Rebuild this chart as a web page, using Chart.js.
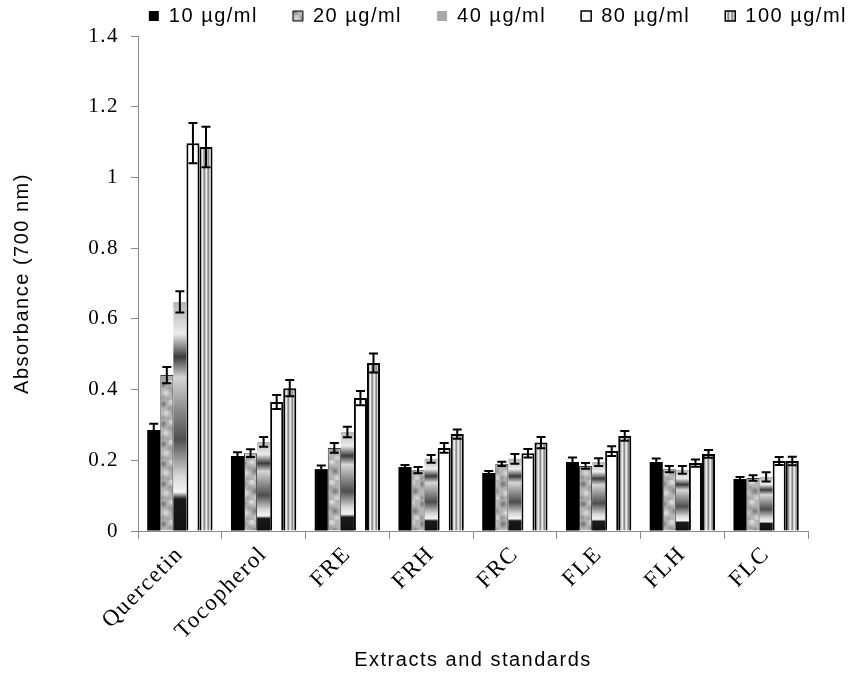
<!DOCTYPE html>
<html>
<head>
<meta charset="utf-8">
<title>Absorbance</title>
<script src="https://cdn.jsdelivr.net/npm/chart.js"></script>
<style>
  html, body { margin: 0; padding: 0; background: #fff; }
  #wrap { width: 858px; height: 676px; }
</style>
</head>
<body>
<div id="wrap"><canvas id="myChart"></canvas></div>
<script>
"use strict"

// Chart data
const categories = ["Quercetin", "Tocopherol", "FRE", "FRH", "FRC", "FLE", "FLH", "FLC"];
const seriesNames = ["10 µg/ml", "20 µg/ml", "40 µg/ml", "80 µg/ml", "100 µg/ml"];

const conc10 = [0.286, 0.212, 0.175, 0.181, 0.164, 0.195, 0.195, 0.147];
const conc20 = [0.441, 0.220, 0.235, 0.172, 0.190, 0.184, 0.175, 0.150];
const conc40 = [0.648, 0.252, 0.280, 0.204, 0.204, 0.195, 0.173, 0.153];
const conc80 = [1.097, 0.365, 0.376, 0.235, 0.220, 0.226, 0.192, 0.198];
const conc100 = [1.086, 0.404, 0.475, 0.274, 0.250, 0.269, 0.218, 0.198];

const err10 = [0.017, 0.011, 0.010, 0.006, 0.006, 0.013, 0.010, 0.006];
const err20 = [0.023, 0.011, 0.014, 0.009, 0.006, 0.008, 0.009, 0.008];
const err40 = [0.030, 0.014, 0.015, 0.011, 0.014, 0.011, 0.011, 0.013];
const err80 = [0.057, 0.020, 0.020, 0.014, 0.012, 0.014, 0.010, 0.011];
const err100 = [0.057, 0.023, 0.027, 0.013, 0.016, 0.014, 0.011, 0.012];

const yMin = 0;
const yMax = 1.4;
const yStep = 0.2;

const canvas = document.getElementById("myChart");
const ctx = canvas.getContext("2d");

// Fill textures
function makeGranite() {
    const tile = document.createElement("canvas");
    tile.width = 20; tile.height = 20;
    const t = tile.getContext("2d");
    t.fillStyle = "#b4b4b4";
    t.fillRect(0, 0, 20, 20);
    t.filter = "blur(1.2px)";
    const spots = [[3, 4, 3, "#7e7e7e"], [12, 2, 2.5, "#e0e0e0"], [15, 11, 3, "#828282"],
                   [6, 13, 2.5, "#dcdcdc"], [10, 8, 2, "#959595"], [2, 18, 2, "#8a8a8a"],
                   [17, 18, 2.5, "#d6d6d6"], [8, 19, 1.5, "#939393"]];
    spots.forEach(([x, y, r, c]) => {
        t.fillStyle = c;
        t.beginPath();
        t.arc(x, y, r, 0, Math.PI * 2);
        t.fill();
    });
    return ctx.createPattern(tile, "repeat");
}

function makeStripes() {
    const tile = document.createElement("canvas");
    tile.width = 4; tile.height = 4;
    const t = tile.getContext("2d");
    ["#8c8c8c", "#cfcfcf", "#ececec", "#acacac"].forEach((c, i) => {
        t.fillStyle = c;
        t.fillRect(i, 0, 1, 4);
    });
    return ctx.createPattern(tile, "repeat");
}

const granite = makeGranite();
const stripes = makeStripes();

// Metallic fill, stretched over each bar from its top to the axis
function metalFill(context) {
    const chart = context.chart;
    const y = chart.scales.y;
    if (!chart.chartArea || !y || !context.parsed) {
        return "#9e9e9e";
    }
    const top = y.getPixelForValue(context.parsed.y);
    const base = y.getPixelForValue(0);
    if (!isFinite(top) || !isFinite(base) || base - top < 1) {
        return "#9e9e9e";
    }
    const g = chart.ctx.createLinearGradient(0, top, 0, base);
    g.addColorStop(0, "#b4b4b4");
    g.addColorStop(0.14, "#ececec");
    g.addColorStop(0.24, "#3a3a3a");
    g.addColorStop(0.33, "#d6d6d6");
    g.addColorStop(0.47, "#8c8c8c");
    g.addColorStop(0.6, "#4e4e4e");
    g.addColorStop(0.76, "#d8d8d8");
    g.addColorStop(0.83, "#f4f4f4");
    g.addColorStop(0.86, "#1a1a1a");
    g.addColorStop(1, "#111111");
    return g;
}

const legendFills = ["#000000", granite, "#a8a8a8", "#ffffff", stripes];
const legendBorders = [0, 1, 0, 1.5, 1.5];

// Error bars drawn on top of the bars
const errorBars = {
    id: "errorBars",
    afterDatasetsDraw(chart) {
        const { ctx, scales: { y } } = chart;
        ctx.save();
        ctx.strokeStyle = "#000";
        ctx.lineWidth = 2;
        chart.data.datasets.forEach((ds, i) => {
            const meta = chart.getDatasetMeta(i);
            meta.data.forEach((bar, j) => {
                const v = ds.data[j];
                const e = ds.errors[j];
                const top = y.getPixelForValue(v + e);
                const bot = y.getPixelForValue(v - e);
                const half = 4.5;
                ctx.beginPath();
                ctx.moveTo(bar.x, top);
                ctx.lineTo(bar.x, bot);
                ctx.moveTo(bar.x - half, top);
                ctx.lineTo(bar.x + half, top);
                ctx.moveTo(bar.x - half, bot);
                ctx.lineTo(bar.x + half, bot);
                ctx.stroke();
            });
        });
        ctx.restore();
    }
};

// Slightly wide-set lettering, like the original
const wideText = {
    id: "wideText",
    beforeUpdate(chart) { chart.ctx.letterSpacing = "1.5px"; },
    beforeDraw(chart) { chart.ctx.letterSpacing = "1.5px"; }
};

Chart.defaults.font.family = "'Liberation Serif', serif";
Chart.defaults.color = "#000";

new Chart(canvas, {
    type: "bar",
    data: {
        labels: categories,
        datasets: [
            { label: seriesNames[0], data: conc10, errors: err10, backgroundColor: "#000000", borderWidth: 0 },
            { label: seriesNames[1], data: conc20, errors: err20, backgroundColor: granite, borderColor: "#3a3a3a", borderWidth: 1 },
            { label: seriesNames[2], data: conc40, errors: err40, backgroundColor: metalFill, borderWidth: 0 },
            { label: seriesNames[3], data: conc80, errors: err80, backgroundColor: "#ffffff", borderColor: "#000", borderWidth: 2 },
            { label: seriesNames[4], data: conc100, errors: err100, backgroundColor: stripes, borderColor: "#000", borderWidth: 2 }
        ]
    },
    options: {
        responsive: true,
        maintainAspectRatio: false,
        animation: false,
        datasets: {
            bar: { categoryPercentage: 0.78, barPercentage: 1.0 }
        },
        layout: { padding: { top: -29, left: 0, right: -24, bottom: 0 } },
        plugins: {
            legend: {
                position: "top",
                align: "end",
                labels: {
                    font: { family: "'Liberation Sans', sans-serif", size: 20 },
                    color: "#000",
                    boxWidth: 10,
                    boxHeight: 10,
                    padding: 35,
                    generateLabels() {
                        return seriesNames.map((name, i) => ({
                            text: name,
                            fillStyle: legendFills[i],
                            strokeStyle: "#000",
                            lineWidth: legendBorders[i],
                            hidden: false,
                            datasetIndex: i
                        }));
                    }
                }
            },
            tooltip: { enabled: false }
        },
        scales: {
            x: {
                grid: { offset: true, drawOnChartArea: false, tickLength: 8, color: "#8a8a8a" },
                border: { color: "#8a8a8a" },
                ticks: { font: { size: 23 }, color: "#000", minRotation: 45, maxRotation: 45, padding: 2 },
                title: {
                    display: true,
                    text: "Extracts and standards",
                    font: { family: "'Liberation Sans', sans-serif", size: 20 },
                    color: "#000",
                    padding: { top: 10, bottom: 4 }
                },
                afterFit(scale) { scale.height = 145; }
            },
            y: {
                min: yMin,
                max: yMax,
                ticks: {
                    stepSize: yStep,
                    font: { size: 21 },
                    color: "#000",
                    padding: 12,
                    callback: (value) => String(Number(value.toFixed(1)))
                },
                grid: { drawOnChartArea: false, tickLength: 7, color: "#8a8a8a" },
                border: { color: "#8a8a8a" },
                title: {
                    display: true,
                    text: "Absorbance (700 nm)",
                    font: { family: "'Liberation Sans', sans-serif", size: 20 },
                    color: "#000",
                    padding: { top: 10, bottom: 4 }
                },
                afterFit(scale) { scale.width = 138; }
            },
            yPad: {
                axis: "y",
                position: "right",
                grid: { display: false },
                border: { display: false },
                ticks: { display: false },
                afterFit(scale) { scale.width = 74; }
            }
        }
    },
    plugins: [errorBars, wideText]
});
</script>
</body>
</html>
